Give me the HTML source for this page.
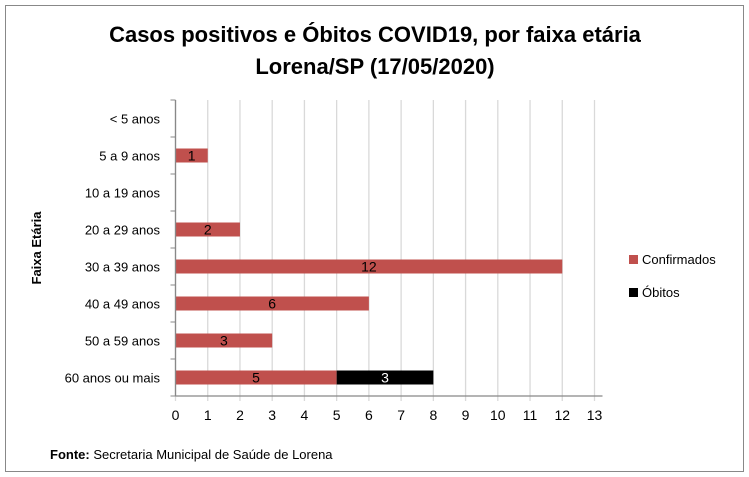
<!DOCTYPE html>
<html><head><meta charset="utf-8"><style>
body{margin:0;background:#fff;}
svg{display:block;font-family:"Liberation Sans",sans-serif;}
</style></head><body>
<svg width="749" height="477" viewBox="0 0 749 477">
<rect x="5.5" y="5.5" width="738" height="466" fill="#fff" stroke="#888"/>
<text x="375" y="42" text-anchor="middle" font-size="22" font-weight="bold" fill="#000">Casos positivos e Óbitos COVID19, por faixa etária</text>
<text x="375" y="74" text-anchor="middle" font-size="22" font-weight="bold" fill="#000">Lorena/SP (17/05/2020)</text>
<text transform="translate(41,248) rotate(-90)" text-anchor="middle" font-size="13" font-weight="bold">Faixa Etária</text>
<g id="grid"></g><g id="bars"></g><g id="axes"></g>
<g>
<rect x="629" y="255" width="9" height="9" fill="#c0504d"/>
<text x="642" y="264" font-size="13">Confirmados</text>
<rect x="629" y="288" width="9" height="9" fill="#000"/>
<text x="642" y="297" font-size="13">Óbitos</text>
</g>
<text x="50" y="459" font-size="13"><tspan font-weight="bold">Fonte:</tspan> Secretaria Municipal de Saúde de Lorena</text>
</svg>
<script>
const categories=["< 5 anos","5 a 9 anos","10 a 19 anos","20 a 29 anos","30 a 39 anos","40 a 49 anos","50 a 59 anos","60 anos ou mais"];
const confirmados=[0,1,0,2,12,6,3,5];
const obitos=[0,0,0,0,0,0,0,3];
const xTicks=[0,1,2,3,4,5,6,7,8,9,10,11,12,13];
const NS="http://www.w3.org/2000/svg";
const x0=175.5,xMax=13,pw=594.5-175.5,plotTop=100,plotBottom=396;
const band=(plotBottom-plotTop)/categories.length;
const xs=v=>x0+v/xMax*pw;
const yc=i=>plotTop+band*(i+0.5);
function mk(tag,attrs,parent){const e=document.createElementNS(NS,tag);for(const k in attrs)e.setAttribute(k,attrs[k]);document.getElementById(parent).appendChild(e);return e;}
xTicks.forEach(t=>{
 const g=mk("line",{x1:xs(t),x2:xs(t),y1:plotTop,y2:plotBottom+5,stroke:"#d9d9d9","stroke-width":1.3},"grid");
 
 
 const tl=mk("text",{x:xs(t),y:plotBottom+24,"text-anchor":"middle","font-size":14},"axes");
 tl.textContent=t;
 
 
});
const ax=mk("line",{x1:x0,x2:xs(xMax)+8,y1:plotBottom,y2:plotBottom,stroke:"#888","stroke-width":1.3},"axes");


const ay=mk("line",{x1:x0,x2:x0,y1:plotTop,y2:plotBottom,stroke:"#888","stroke-width":1.3},"axes");


for(let i=0;i<=categories.length;i++){
 const tk=mk("line",{x1:x0-5,x2:x0,y1:plotTop+band*i,y2:plotTop+band*i,stroke:"#888"},"axes");
 
 
}
categories.forEach((c,i)=>{
 const t=mk("text",{x:160,y:yc(i)+5,"text-anchor":"end","font-size":13},"axes");
 t.textContent=c;
 
 
 const h=14;
 if(confirmados[i]>0){
  const r=mk("rect",{x:xs(0),y:yc(i)-h/2,width:xs(confirmados[i])-xs(0),height:h,fill:"#c0504d"},"bars");
  
  
  const l=mk("text",{x:(xs(0)+xs(confirmados[i]))/2,y:yc(i)+5,"text-anchor":"middle","font-size":14,fill:"#000"},"bars");
  l.textContent=confirmados[i];
  
  
 }
 if(obitos[i]>0){
  const a=confirmados[i],b=a+obitos[i];
  const r=mk("rect",{x:xs(a),y:yc(i)-h/2,width:xs(b)-xs(a),height:h,fill:"#000"},"bars");
  
  
  const l=mk("text",{x:(xs(a)+xs(b))/2,y:yc(i)+5,"text-anchor":"middle","font-size":14,fill:"#fff"},"bars");
  l.textContent=obitos[i];
  
  
 }
});
</script>
</body></html>
